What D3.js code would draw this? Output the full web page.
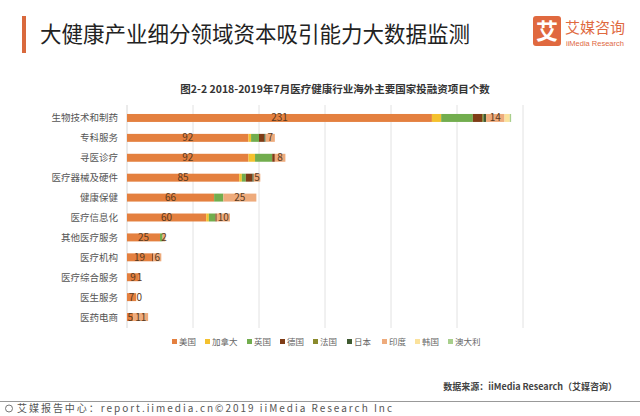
<!DOCTYPE html>
<html><head><meta charset="utf-8">
<script src="https://cdn.jsdelivr.net/npm/d3@7"></script>
<style>
html,body{margin:0;padding:0;background:#fff;}
svg{display:block;font-family:"Noto Sans CJK SC","Noto Sans",sans-serif;}
</style></head>
<body><svg id="c" width="640" height="416"></svg>
<script>
const categories = ["生物技术和制药","专科服务","寻医诊疗","医疗器械及硬件","健康保健","医疗信息化","其他医疗服务","医疗机构","医疗综合服务","医生服务","医药电商"];
const seriesNames = ["美国","加拿大","英国","德国","法国","日本","印度","韩国","澳大利"];
const usa       = [231, 92, 92, 85, 66, 60, 25, 19, 9, 7, 5];
const canada    = [  7,  2,  5,  2,  0,  2,  0,  0, 0, 0, 0];
const uk        = [ 24,  6, 13,  3,  7,  5,  2,  0, 0, 0, 0];
const germany   = [  7,  4,  2,  5,  0,  1,  0,  1, 0, 0, 0];
const france    = [  1,  0,  0,  0,  0,  0,  0,  0, 0, 0, 0];
const japan     = [  2,  1,  0,  1,  0,  0,  0,  0, 0, 0, 0];
const india     = [ 14,  7,  8,  5, 25, 10,  2,  6, 1, 0, 11];
const korea     = [  4,  0,  0,  0,  0,  0,  0,  0, 0, 0, 0];
const australia = [  1,  0,  0,  0,  0,  0,  0,  0, 0, 0, 0];
const xTicks = [0, 50, 100, 150, 200, 250, 300];
const labelledSeries = ["美国","印度"];

const colors = ["#e4803f","#f4c12e","#72ad4e","#7f3c16","#8a8a2c","#3f5a31","#eeab7c","#fbe29c","#a8cf8c"];
const values = [usa, canada, uk, germany, france, japan, india, korea, australia];

const rows = categories.map((c,i)=>{
  const r = {cat:c};
  seriesNames.forEach((s,k)=>{ r[s] = values[k][i]; });
  return r;
});

const svg = d3.select("#c");

// header
svg.append("rect").attr("x",22).attr("y",16).attr("width",4).attr("height",37).attr("fill","#d9693d");
svg.append("text").attr("x",40).attr("y",42).attr("font-size",21.5).attr("fill","#222")
  .text("大健康产业细分领域资本吸引能力大数据监测");
svg.append("rect").attr("x",533).attr("y",16).attr("width",28).attr("height",30).attr("rx",3).attr("fill","#e0693f");
svg.append("text").attr("x",547).attr("y",39).attr("text-anchor","middle").attr("font-size",22).attr("font-weight","bold").attr("fill","#fff").text("艾");
svg.append("text").attr("x",565).attr("y",33).attr("font-size",15).attr("fill","#e0693f").text("艾媒咨询");
svg.append("text").attr("x",566).attr("y",46).attr("font-size",7.5).attr("fill","#e0693f").attr("font-family","Liberation Sans Narrow, Liberation Sans, sans-serif").text("iiMedia Research");

// chart title
svg.append("text").attr("x",335).attr("y",93).attr("text-anchor","middle").attr("font-size",10.5).attr("font-weight","bold").attr("fill","#333")
  .text("图2-2 2018-2019年7月医疗健康行业海外主要国家投融资项目个数");

const x0 = 127;
const x = d3.scaleLinear().domain([0,300]).range([x0, x0+396]);
const y = d3.scaleBand().domain(categories).range([108, 327]).paddingInner(0.6).paddingOuter(0.3);

// grid
svg.append("g").selectAll("line").data(xTicks.slice(1)).join("line")
  .attr("x1",d=>x(d)).attr("x2",d=>x(d)).attr("y1",105).attr("y2",328)
  .attr("stroke","#e2e2e2").attr("stroke-width",1);
svg.append("line").attr("x1",x(0)).attr("x2",x(0)).attr("y1",105).attr("y2",328).attr("stroke","#d6d6d6");

const stack = d3.stack().keys(seriesNames)(rows);
const g = svg.append("g");
stack.forEach((layer,k)=>{
  g.append("g").selectAll("rect").data(layer).join("rect")
    .attr("x",d=>x(d[0])).attr("width",d=>Math.max(0,x(d[1])-x(d[0])))
    .attr("y",d=>y(d.data.cat)).attr("height",y.bandwidth())
    .attr("fill",colors[k]);
});
stack.forEach((layer,k)=>{
  if(!labelledSeries.includes(seriesNames[k])) return;
  g.append("g").selectAll("text").data(layer).join("text")
    .attr("x",d=>(x(d[0])+x(d[1]))/2 + (d[1]-d[0]===0?3:0))
    .attr("y",d=>y(d.data.cat)+y.bandwidth()/2+3.5)
    .attr("text-anchor","middle").attr("font-size",10).attr("fill","#5a3a20")
    .text(d=>d[1]-d[0]);
});

// category axis
svg.append("g").selectAll("text").data(categories).join("text")
  .attr("x",118).attr("y",d=>y(d)+y.bandwidth()/2+3.5)
  .attr("text-anchor","end").attr("font-size",9.5).attr("fill","#555").text(d=>d);

// legend
const legendX = [172,205,247,280,313,347,382,415,448];
const lg = svg.append("g").selectAll("g").data(seriesNames).join("g")
  .attr("transform",(d,i)=>`translate(${legendX[i]},343)`);
lg.append("rect").attr("x",0).attr("y",-4).attr("width",5).attr("height",5).attr("fill",(d,i)=>colors[i]);
lg.append("text").attr("x",7).attr("y",1.5).attr("font-size",8.5).attr("fill","#666").text(d=>d);

// source
svg.append("text").attr("x",617).attr("y",390).attr("text-anchor","end").attr("font-size",9).attr("font-weight","bold").attr("fill","#444")
  .text("数据来源：iiMedia Research（艾媒咨询）");
svg.append("line").attr("x1",0).attr("x2",640).attr("y1",401.5).attr("y2",401.5).attr("stroke","#999");
svg.append("circle").attr("cx",9).attr("cy",408.5).attr("r",3.5).attr("fill","none").attr("stroke","#777");
svg.append("text").attr("x",17).attr("y",412).attr("font-size",10).attr("fill","#555")
  .attr("textLength",375).attr("lengthAdjust","spacing")
  .text("艾媒报告中心：report.iimedia.cn©2019 iiMedia Research Inc");
</script></body></html>
